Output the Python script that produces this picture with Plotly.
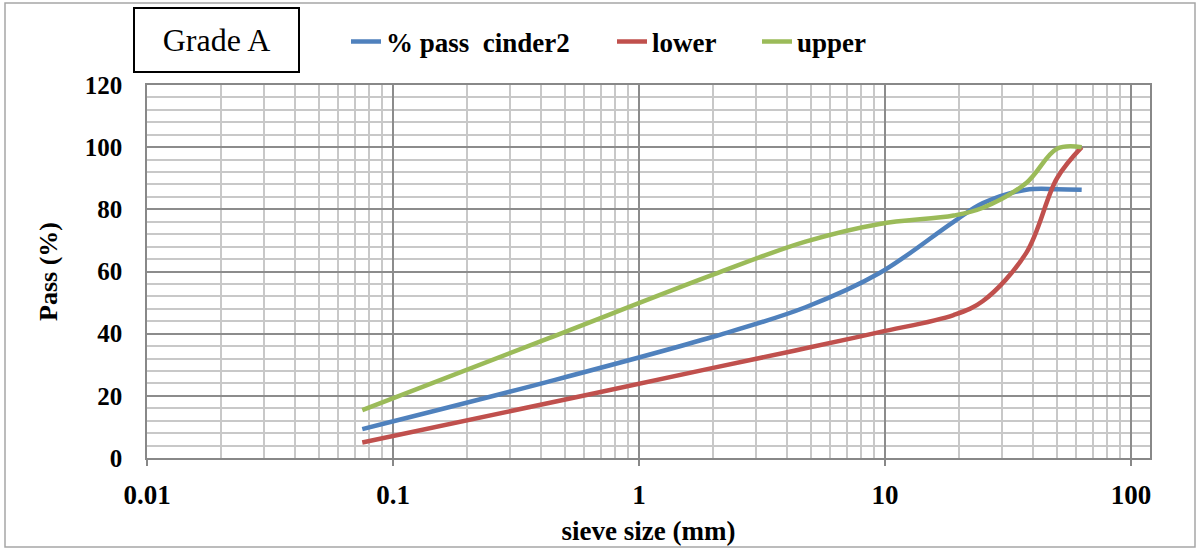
import plotly.graph_objects as go

sieve_mm = [0.075, 0.425, 2, 4.75, 9.5, 19, 25, 37.5, 50, 63]
pass_cinder2 = [9.3, 24.5, 39, 48.5, 59.5, 76, 82, 86.3, 86.5, 86.3]
lower = [5, 17.6, 29, 35.3, 40.5, 46, 50.5, 66, 90, 100]
upper = [15.4, 38.4, 59, 69.6, 75.3, 78, 80.5, 88.5, 99.5, 100]

x_ticks = [0.01, 0.1, 1, 10, 100]
x_tick_labels = ["0.01", "0.1", "1", "10", "100"]
y_ticks = [0, 20, 40, 60, 80, 100, 120]

series_names = ["% pass\u00a0 cinder2", "lower", "upper"]
series_colors = ["#4F81BD", "#C0504D", "#9BBB59"]
legend_ids = ["legend", "legend2", "legend3"]

FONT = "Liberation Serif, Times New Roman, serif"

# figure geometry (pixels)
W, H = 1202, 549
L, R, T, B = 147, 52, 85, 91
PW, PH = W - L - R, H - T - B

def px_x(p):
    return (p - L) / PW

def px_y(p):
    return (H - B - p) / PH

fig = go.Figure()
for name, vals, col, lg in zip(series_names, [pass_cinder2, lower, upper], series_colors, legend_ids):
    fig.add_trace(go.Scatter(
        x=sieve_mm, y=vals, name=name, mode="lines", legend=lg,
        line=dict(color=col, width=4.5, shape="spline", smoothing=1.0),
    ))

minor_x = [m * 10.0 ** e for e in range(-2, 2) for m in range(2, 10)]

legend_font = dict(family=FONT, size=27, color="black", weight="bold")
def make_legend(xpx):
    return dict(
        orientation="h", x=px_x(xpx), y=px_y(42), xanchor="left", yanchor="middle",
        font=legend_font, bgcolor="rgba(0,0,0,0)", itemwidth=30,
    )

fig.update_layout(
    width=W, height=H,
    margin=dict(l=L, r=R, t=T, b=B, autoexpand=False),
    paper_bgcolor="white", plot_bgcolor="white",
    font=dict(family=FONT, size=26, color="black"),
    showlegend=True,
    legend=make_legend(346),
    legend2=make_legend(612),
    legend3=make_legend(757),
    xaxis=dict(
        type="log", range=[-2, 2.077], automargin=False,
        tickmode="array", tickvals=x_ticks, ticktext=x_tick_labels,
        tickfont=dict(family=FONT, size=27, color="black", weight="bold"),
        ticks="outside", ticklen=6, tickcolor="#888888", tickwidth=1.5,
        ticklabelstandoff=6,
        showgrid=True, gridcolor="#8c8c8c", gridwidth=1.5,
        minor=dict(tickmode="array", tickvals=minor_x, showgrid=True,
                   gridcolor="#c8c8c8", gridwidth=1.5, ticks=""),
        showline=True, linecolor="#888888", linewidth=1.5, mirror=True,
        title=dict(text="sieve size (mm)", standoff=12,
                   font=dict(family=FONT, size=27, color="black", weight="bold")),
        zeroline=False,
    ),
    yaxis=dict(
        range=[0, 120], tickmode="array", tickvals=y_ticks, automargin=False,
        tickfont=dict(family=FONT, size=25, color="black", weight="bold"),
        ticks="", ticklabelstandoff=18,
        showgrid=True, gridcolor="#8c8c8c", gridwidth=1.5,
        minor=dict(dtick=4, showgrid=True, gridcolor="#c8c8c8", gridwidth=1.5, ticks=""),
        showline=True, linecolor="#888888", linewidth=1.5, mirror=True,
        title=dict(text="Pass (%)", standoff=20,
                   font=dict(family=FONT, size=26, color="black", weight="bold")),
        zeroline=False,
    ),
    shapes=[
        dict(type="rect", xref="paper", yref="paper",
             x0=px_x(5), x1=px_x(1195), y0=px_y(547), y1=px_y(3),
             line=dict(color="#a6a6a6", width=1.5), fillcolor="rgba(0,0,0,0)", layer="below"),
    ],
    annotations=[
        dict(text="Grade A", xref="paper", yref="paper",
             x=px_x(216.5), y=px_y(40), xanchor="center", yanchor="middle",
             showarrow=False, width=163, height=62,
             bordercolor="black", borderwidth=2, borderpad=0, bgcolor="white",
             font=dict(family=FONT, size=32, color="black")),
    ],
)

fig.write_html("out.html")
